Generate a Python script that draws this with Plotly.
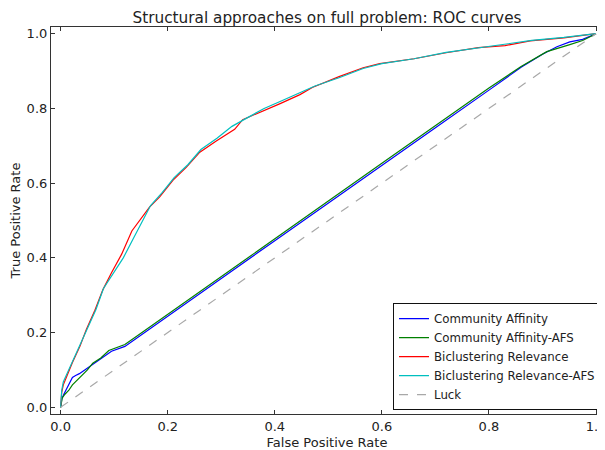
import plotly.graph_objects as go

title = "Structural approaches on full problem: ROC curves"
x_label = "False Positive Rate"
y_label = "True Positive Rate"
tick_vals = [0.0, 0.2, 0.4, 0.6, 0.8, 1.0]
tick_text = ["0.0", "0.2", "0.4", "0.6", "0.8", "1.0"]

fpr_blue = [0, 0.002, 0.006, 0.011, 0.016, 0.022, 0.028, 0.035, 0.045, 0.052, 0.06, 0.075, 0.095, 0.12,
            0.142, 0.2, 0.3, 0.4, 0.5, 0.6, 0.7, 0.8, 0.86, 0.9, 0.927, 0.951, 0.975, 1.0]
tpr_blue = [0, 0.022, 0.035, 0.05, 0.062, 0.08, 0.085, 0.09, 0.1, 0.107, 0.114, 0.13, 0.15, 0.163,
            0.185, 0.244, 0.345, 0.446, 0.546, 0.647, 0.748, 0.849, 0.91, 0.945, 0.965, 0.978, 0.985, 1.0]

fpr_green = [0, 0.003, 0.008, 0.015, 0.022, 0.03, 0.04, 0.05, 0.06, 0.075, 0.09, 0.1, 0.12, 0.142,
             0.2, 0.3, 0.4, 0.5, 0.6, 0.7, 0.8, 0.86, 0.908, 0.951, 0.975, 1.0]
tpr_green = [0, 0.025, 0.035, 0.045, 0.06, 0.072, 0.085, 0.1, 0.118, 0.132, 0.152, 0.157, 0.168, 0.19,
             0.249, 0.351, 0.452, 0.552, 0.653, 0.754, 0.855, 0.912, 0.952, 0.971, 0.982, 1.0]

fpr_red = [0, 0.002, 0.005, 0.011, 0.022, 0.036, 0.048, 0.064, 0.079, 0.095, 0.114, 0.133, 0.148, 0.166,
           0.185, 0.21, 0.235, 0.26, 0.29, 0.325, 0.34, 0.385, 0.41, 0.447, 0.47, 0.52, 0.565, 0.596,
           0.66, 0.72, 0.78, 0.83, 0.877, 0.94, 1.0]
tpr_red = [0, 0.04, 0.06, 0.083, 0.12, 0.163, 0.208, 0.26, 0.315, 0.36, 0.41, 0.472, 0.5, 0.536,
           0.563, 0.608, 0.643, 0.683, 0.712, 0.744, 0.77, 0.797, 0.813, 0.837, 0.856, 0.885, 0.909, 0.92,
           0.933, 0.949, 0.963, 0.968, 0.981, 0.989, 1.0]

fpr_cyan = [0, 0.002, 0.005, 0.012, 0.022, 0.035, 0.05, 0.066, 0.08, 0.097, 0.117, 0.137, 0.152, 0.168,
            0.19, 0.212, 0.238, 0.262, 0.292, 0.32, 0.345, 0.38, 0.412, 0.445, 0.475, 0.52, 0.565, 0.6,
            0.66, 0.72, 0.78, 0.83, 0.88, 0.94, 1.0]
tpr_cyan = [0, 0.045, 0.068, 0.09, 0.125, 0.165, 0.21, 0.262, 0.318, 0.355, 0.4, 0.455, 0.497, 0.54,
            0.575, 0.615, 0.65, 0.69, 0.72, 0.752, 0.772, 0.8, 0.82, 0.84, 0.86, 0.882, 0.907, 0.92,
            0.933, 0.95, 0.962, 0.97, 0.982, 0.99, 1.0]

luck_x = [0, 1]
luck_y = [0, 1]

series = [
    ("Community Affinity", fpr_blue, tpr_blue, "#0000ff", "solid"),
    ("Community Affinity-AFS", fpr_green, tpr_green, "#008000", "solid"),
    ("Biclustering Relevance", fpr_red, tpr_red, "#ff0000", "solid"),
    ("Biclustering Relevance-AFS", fpr_cyan, tpr_cyan, "#00bfbf", "solid"),
    ("Luck", luck_x, luck_y, "#a8a8a8", "dash"),
]

fig = go.Figure()
for name, xs, ys, color, dash in series:
    fig.add_trace(go.Scatter(x=xs, y=ys, mode="lines", name=name,
                             line=dict(color=color, width=1.2, dash=dash)))

font_family = "DejaVu Sans"
axis_common = dict(
    showline=True, linecolor="#333333", linewidth=1.2, mirror="allticks",
    ticks="inside", ticklen=4, tickcolor="#333333", tickwidth=1,
    showgrid=False, zeroline=False, automargin=False,
    tickvals=tick_vals, ticktext=tick_text, ticklabeloverflow="allow",
    tickfont=dict(family=font_family, size=13, color="#222222"),
)

# the page body adds an 8px offset; the figure is sized to fill the 605x450 window
fig.update_layout(
    width=597, height=442,
    margin=dict(l=43, r=2, t=19, b=36),
    paper_bgcolor="white", plot_bgcolor="white",
    font=dict(family=font_family, color="#222222"),
    title=dict(text=title, x=0.5, xanchor="center", xref="paper",
               y=0.978, yref="container", yanchor="middle",
               font=dict(family=font_family, size=15.3, color="#222222")),
    xaxis=dict(range=[-0.018, 1.013], title=dict(text=x_label, standoff=11,
               font=dict(family=font_family, size=13)), **axis_common),
    yaxis=dict(range=[-0.018, 1.018], title=dict(text=y_label, standoff=4,
               font=dict(family=font_family, size=13)), **axis_common),
    legend=dict(x=0.9964, y=0.01, xanchor="right", yanchor="bottom",
                bgcolor="white", bordercolor="#111111", borderwidth=1,
                font=dict(family=font_family, size=11.8, color="#222222"),
                tracegroupgap=0, itemwidth=30),
    showlegend=True,
)

fig.write_html("out.html")
